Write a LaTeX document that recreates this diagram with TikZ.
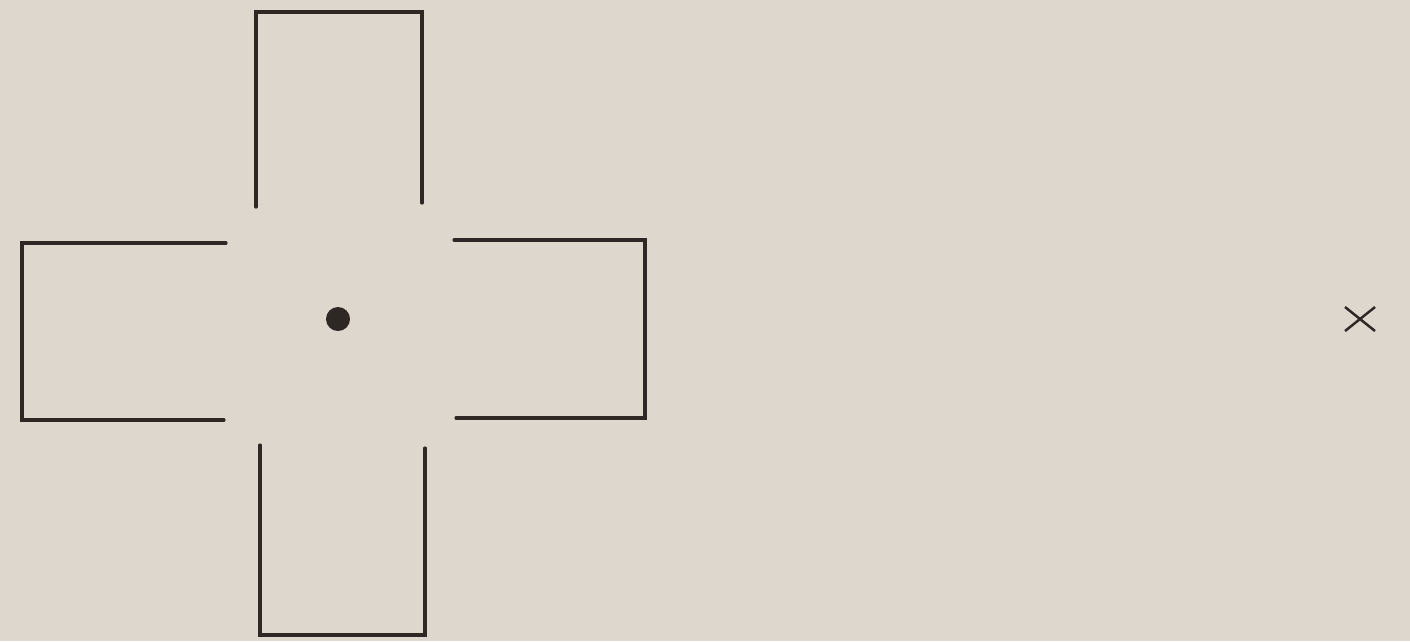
\documentclass[tikz,border=0pt]{standalone}
\usepackage{xcolor}
\usepackage{tikz}
\usetikzlibrary{positioning, calc}
\definecolor{paperbeige}{RGB}{222, 215, 205}
\definecolor{inkdark}{RGB}{45, 40, 36}

\begin{document}
\begin{tikzpicture}[x=0.01cm,y=-0.01cm]
  \fill[paperbeige] (0,0) rectangle (1410,641);
  \useasboundingbox (0,0) rectangle (1410,641);
  % the four open arms of the cross
  \foreach \ax/\ay/\bx/\by/\cx/\cy/\dx/\dy in {
      256/207/256/12/422/12/422/203,
      226/243/22/243/22/420/224/420,
      454/240/645/240/645/418/456/418,
      260/445/260/635/425/635/425/448} {
    \draw[inkdark,line width=0.9pt,line cap=round,line join=miter]
      (\ax,\ay) -- (\bx,\by) -- (\cx,\cy) -- (\dx,\dy);
  }
  \node[circle,fill=inkdark,inner sep=0pt,minimum size=0.24cm] (centre) at (338,319) {};
  % the far mark
  \coordinate (farmark) at (1360,319);
  \draw[inkdark,line width=0.7pt] ($(farmark)+(-15,-12)$) -- ($(farmark)+(15,12)$);
  \draw[inkdark,line width=0.7pt] ($(farmark)+(-15,12)$) -- ($(farmark)+(15,-12)$);
\end{tikzpicture}
\end{document}
